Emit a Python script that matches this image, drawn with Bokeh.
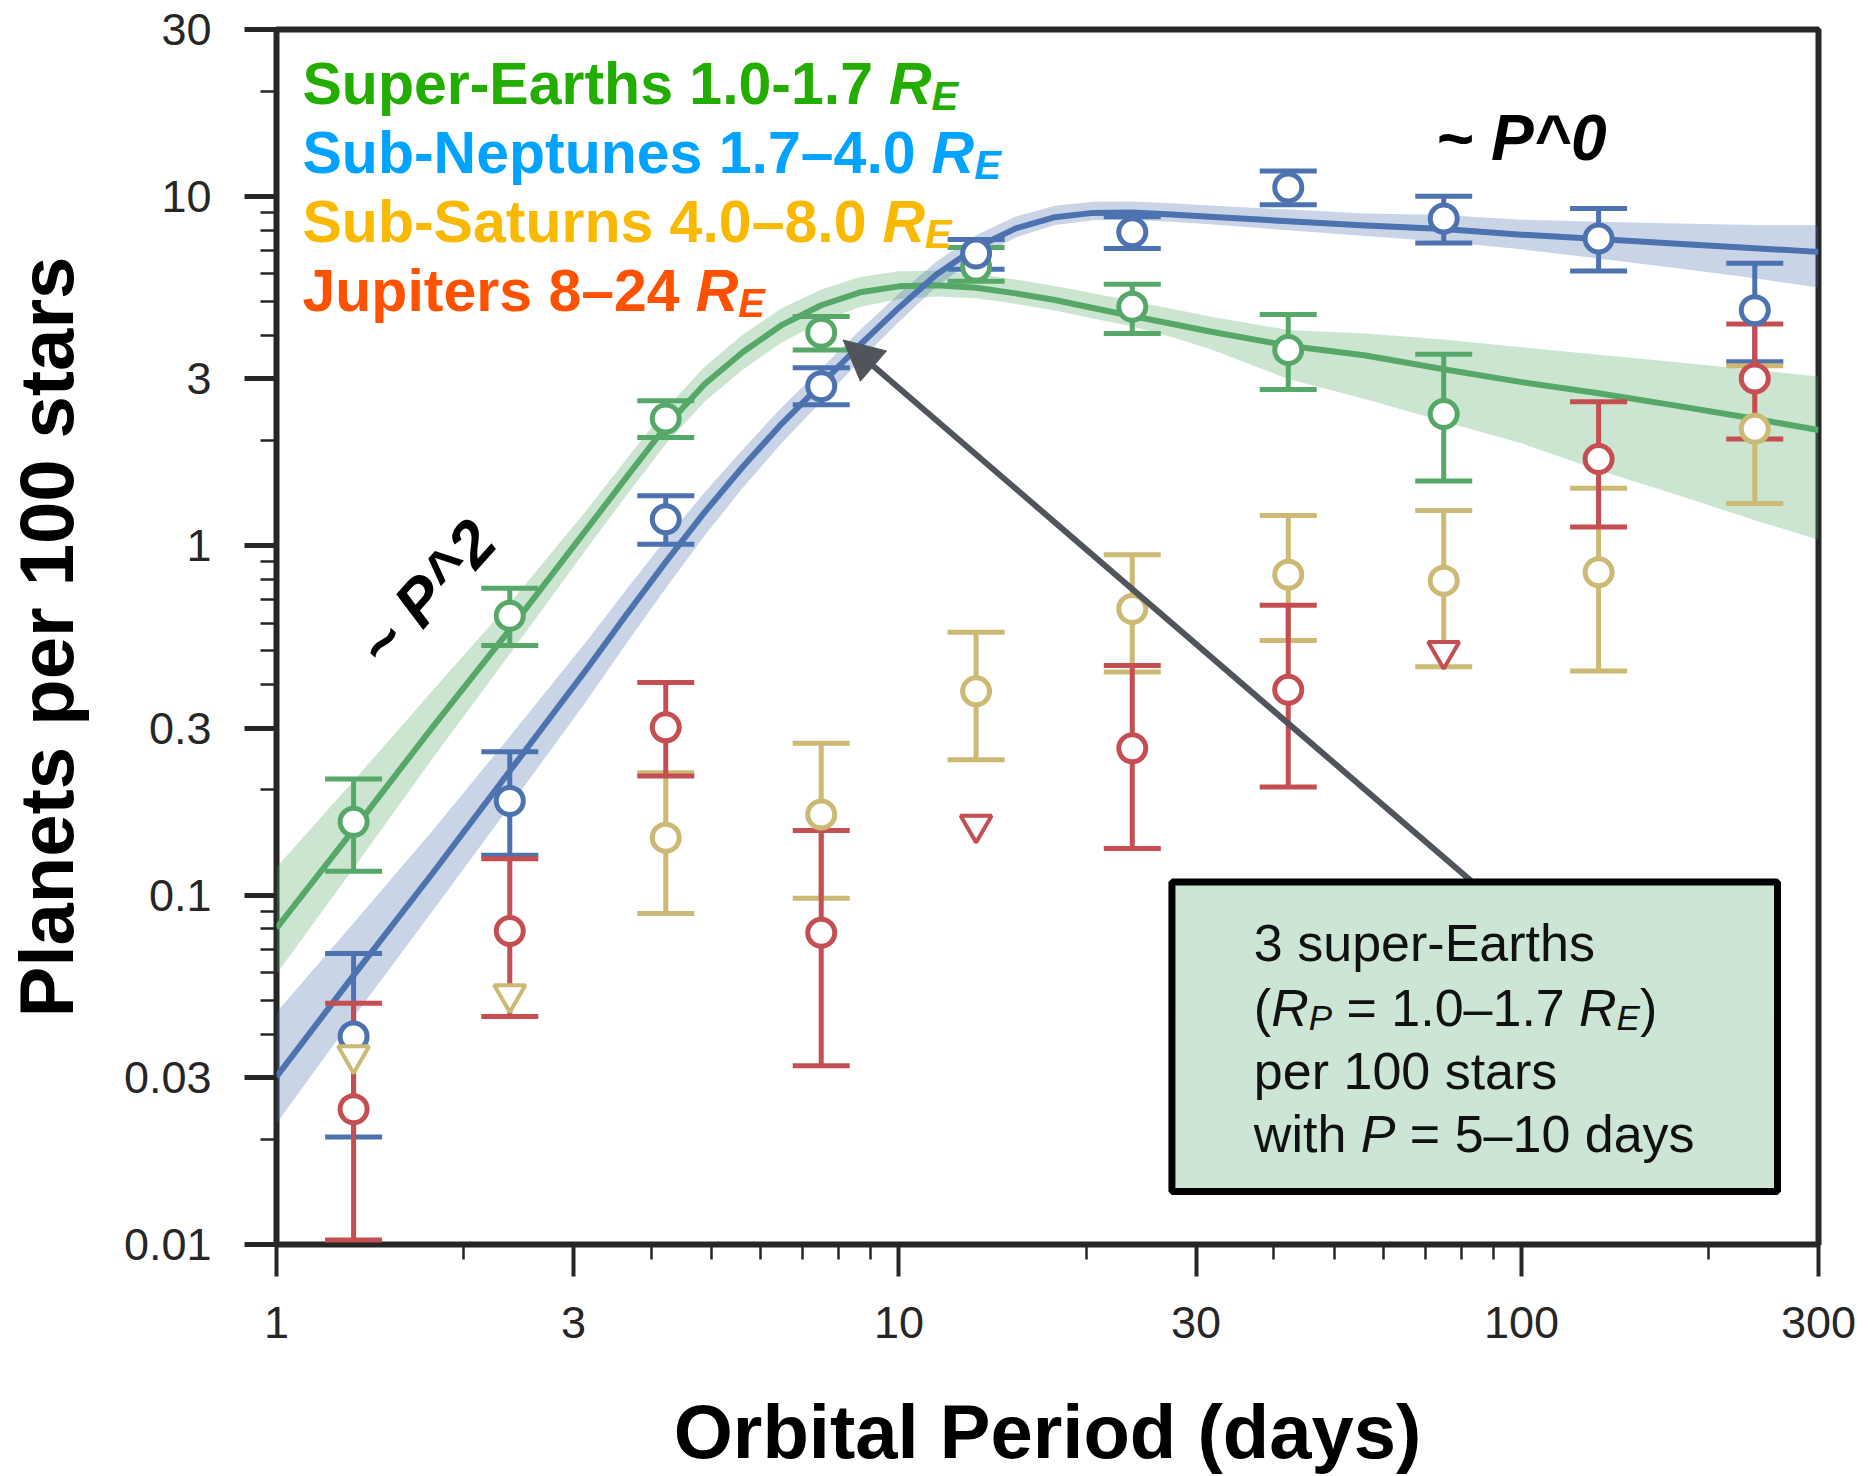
import math
from bokeh.plotting import figure
from bokeh.models import (Range1d, FixedTicker, ColumnDataSource, Whisker, TeeHead,
                          Label, Arrow, NormalHead, BoxAnnotation)
from bokeh.embed import file_html
from bokeh.resources import INLINE

# ---------------- data ----------------
period = [1.33, 2.37, 4.22, 7.50, 13.3, 23.7, 42.2, 75.0, 133, 237]

# Super-Earths 1.0-1.7 RE (first 8 bins)
se_period = [1.33, 2.37, 4.22, 7.50, 13.3, 23.7, 42.2, 75.0]
se_y = [0.162, 0.63, 2.31, 4.07, 6.28, 4.83, 3.63, 2.38]
se_hi = [0.215, 0.755, 2.60, 4.53, 7.13, 5.60, 4.59, 3.53]
se_lo = [0.117, 0.518, 2.04, 3.63, 5.71, 4.05, 2.80, 1.53]

# Sub-Neptunes 1.7-4.0 RE
sn_y = [0.0394, 0.186, 1.19, 2.86, 6.86, 7.89, 10.6, 8.63, 7.57, 4.72]
sn_hi = [0.068, 0.257, 1.39, 3.23, 7.52, 8.73, 11.8, 10.0, 9.22, 6.43]
sn_lo = [0.0203, 0.130, 1.01, 2.53, 6.18, 7.08, 9.46, 7.35, 6.11, 3.36]

# Sub-Saturns 4.0-8.0 RE  (upper limits drawn as triangles)
ss_y = [0.0348, 0.052, 0.146, 0.170, 0.383, 0.659, 0.826, 0.794, 0.839, 2.16]
ss_hi = [None, None, 0.224, 0.272, 0.565, 0.942, 1.22, 1.26, 1.46, 3.27]
ss_lo = [None, None, 0.0885, 0.098, 0.244, 0.435, 0.535, 0.45, 0.438, 1.32]
ss_limit = [True, True, False, False, False, False, False, False, False, False]

# Jupiters 8-24 RE
hj_y = [0.0244, 0.0789, 0.302, 0.078, 0.159, 0.263, 0.387, 0.50, 1.77, 3.01]
hj_hi = [0.049, 0.127, 0.406, 0.153, None, 0.454, 0.675, None, 2.58, 4.31]
hj_lo = [0.0103, 0.0449, 0.219, 0.0325, None, 0.136, 0.204, None, 1.13, 2.02]
hj_limit = [False, False, False, False, True, False, False, True, False, False]

# fitted occurrence models (line and confidence band)
fit_period = [1.00, 1.33, 1.78, 2.37, 3.16, 3.65, 4.22, 4.87, 5.62, 6.49, 7.50, 8.66,
              10.0, 11.5, 13.3, 15.4, 17.8, 20.5, 23.7, 27.4, 31.6, 42.2, 56.2, 75.0,
              100, 133, 178, 237, 300]
se_fit = [0.0804, 0.154, 0.302, 0.575, 1.122, 1.570, 2.193, 2.897, 3.589, 4.285, 4.875,
          5.309, 5.521, 5.559, 5.470, 5.272, 5.047, 4.786, 4.539, 4.315, 4.102, 3.733,
          3.499, 3.199, 2.938, 2.729, 2.512, 2.307, 2.143]
se_fit_hi = [0.1202, 0.2123, 0.3846, 0.6839, 1.274, 1.770, 2.460, 3.251, 4.027, 4.786,
             5.408, 5.875, 6.095, 6.124, 5.998, 5.781, 5.534, 5.272, 5.012, 4.764, 4.529,
             4.140, 4.046, 3.890, 3.698, 3.516, 3.350, 3.184, 3.048]
se_fit_lo = [0.0594, 0.1194, 0.2455, 0.4898, 0.9886, 1.393, 1.954, 2.582, 3.199, 3.819,
             4.365, 4.819, 5.082, 5.164, 5.105, 4.920, 4.710, 4.467, 4.236, 3.954, 3.656,
             2.999, 2.624, 2.265, 1.963, 1.644, 1.396, 1.183, 1.040]
sn_fit = [0.0302, 0.0589, 0.1153, 0.2265, 0.4467, 0.6353, 0.8974, 1.245, 1.687, 2.239,
          2.897, 3.758, 4.797, 5.984, 7.129, 8.091, 8.710, 8.96, 8.98, 8.87, 8.74, 8.48,
          8.24, 8.06, 7.76, 7.54, 7.31, 7.10, 6.93]
sn_fit_hi = [0.0462, 0.0832, 0.1528, 0.2844, 0.5370, 0.7499, 1.042, 1.419, 1.892, 2.495,
             3.214, 4.140, 5.260, 6.516, 7.727, 8.750, 9.397, 9.638, 9.661, 9.550, 9.408,
             9.155, 8.931, 8.831, 8.570, 8.453, 8.356, 8.279, 8.260]
sn_fit_lo = [0.0222, 0.0447, 0.0899, 0.1795, 0.3631, 0.5260, 0.7551, 1.067, 1.469, 1.972,
             2.582, 3.388, 4.375, 5.521, 6.653, 7.621, 8.279, 8.531, 8.570, 8.453, 8.308,
             7.990, 7.689, 7.413, 7.047, 6.637, 6.223, 5.821, 5.483]

x_ticks = [1, 3, 10, 30, 100, 300]
x_tick_labels = ["1", "3", "10", "30", "100", "300"]
x_minor = [2, 4, 5, 6, 7, 8, 9, 20, 40, 50, 60, 70, 80, 90, 200]
y_ticks = [0.01, 0.03, 0.1, 0.3, 1, 3, 10, 30]
y_tick_labels = ["0.01", "0.03", "0.1", "0.3", "1", "3", "10", "30"]
y_minor = [0.02, 0.04, 0.05, 0.06, 0.07, 0.08, 0.09, 0.2, 0.4, 0.5, 0.6, 0.7, 0.8, 0.9,
           2, 4, 5, 6, 7, 8, 9, 20]

legend_labels = ["Super-Earths 1.0-1.7", "Sub-Neptunes 1.7\u20134.0",
                 "Sub-Saturns 4.0\u20138.0", "Jupiters 8\u201324"]

# ---------------- styling ----------------
C_SE, C_SN, C_SS, C_HJ = "#55A868", "#4C72B0", "#CCB974", "#C44E52"
L_SE, L_SN, L_SS, L_HJ = "#22ad00", "#00a3ff", "#f8b900", "#ff5200"
FONT = "Liberation Sans"
AX = "#262626"

W, H = 1869, 1476
FL, FR, FT, FB = 275, 1818, 29, 1246
X0, X1, Y0, Y1 = 1.0, 300.0, 0.01, 30.0


def dx(px):
    return 10 ** (math.log10(X0) + (px - FL) / (FR - FL) * math.log10(X1 / X0))


def dy(py):
    return 10 ** (math.log10(Y1) - (py - FT) / (FB - FT) * math.log10(Y1 / Y0))


p = figure(width=W, height=H, x_axis_type="log", y_axis_type="log",
           x_range=Range1d(X0, X1), y_range=Range1d(Y0, Y1),
           output_backend="svg", toolbar_location=None,
           min_border_left=FL, min_border_right=W - FR,
           min_border_top=FT, min_border_bottom=H - FB)
p.xgrid.visible = False
p.ygrid.visible = False
p.background_fill_color = "white"
p.border_fill_color = "white"
p.outline_line_color = AX
p.outline_line_width = 6
p.outline_line_alpha = 1

# axes
p.xaxis.ticker = FixedTicker(ticks=x_ticks, minor_ticks=x_minor)
p.yaxis.ticker = FixedTicker(ticks=y_ticks, minor_ticks=y_minor)
p.xaxis.major_label_overrides = dict(zip(x_ticks, x_tick_labels))
p.yaxis.major_label_overrides = dict(zip(y_ticks, y_tick_labels))
for ax in (p.xaxis[0], p.yaxis[0]):
    ax.axis_line_color = None
    ax.major_tick_in = 0
    ax.minor_tick_in = 0
    ax.major_tick_out = 32
    ax.major_tick_line_color = AX
    ax.minor_tick_line_color = AX
    ax.major_label_text_font = FONT
    ax.major_label_text_font_size = "45px"
    ax.major_label_text_color = AX
    ax.axis_label_text_font = FONT
    ax.axis_label_text_font_size = "76px"
    ax.axis_label_text_font_style = "bold"
    ax.axis_label_text_color = "black"
p.yaxis.major_tick_line_width = 5
p.yaxis.minor_tick_line_width = 2.5
p.yaxis.minor_tick_out = 16
p.xaxis.major_tick_line_width = 4
p.xaxis.minor_tick_line_width = 2.5
p.xaxis.minor_tick_out = 15
p.yaxis.major_label_standoff = 33
p.xaxis.major_label_standoff = 30
p.xaxis.axis_label = "Orbital Period (days)"
p.yaxis.axis_label = "Planets per 100 stars"
p.xaxis.axis_label_standoff = 48
p.yaxis.axis_label_standoff = 32

# fit bands and lines
p.varea(x=fit_period, y1=se_fit_lo, y2=se_fit_hi, fill_color=C_SE, fill_alpha=0.3, level="image")
p.varea(x=fit_period, y1=sn_fit_lo, y2=sn_fit_hi, fill_color=C_SN, fill_alpha=0.3, level="image")
p.line(fit_period, se_fit, line_color=C_SE, line_width=6, line_join="round", level="image")
p.line(fit_period, sn_fit, line_color=C_SN, line_width=6, line_join="round", level="image")


def bars(xs, lo, hi, color):
    rows = [(x, l, h) for x, l, h in zip(xs, lo, hi) if l is not None]
    src = ColumnDataSource(dict(x=[r[0] for r in rows], lo=[r[1] for r in rows],
                                hi=[r[2] for r in rows]))
    w = Whisker(source=src, base="x", lower="lo", upper="hi", dimension="height",
                line_color=color, line_width=5, level="underlay",
                upper_head=TeeHead(size=57, line_color=color, line_width=5),
                lower_head=TeeHead(size=57, line_color=color, line_width=5))
    p.add_layout(w)


bars(se_period, se_lo, se_hi, C_SE)
bars(period, sn_lo, sn_hi, C_SN)
bars(period, ss_lo, ss_hi, C_SS)
bars(period, hj_lo, hj_hi, C_HJ)


def points(xs, ys, color, limit=None):
    if limit is None:
        limit = [False] * len(xs)
    cx = [x for x, l in zip(xs, limit) if not l]
    cy = [y for y, l in zip(ys, limit) if not l]
    tx = [x for x, l in zip(xs, limit) if l]
    ty = [y for y, l in zip(ys, limit) if l]
    p.scatter(cx, cy, marker="circle", size=27, fill_color="white",
              line_color=color, line_width=5)
    if tx:
        p.scatter(tx, ty, marker="inverted_triangle", size=31, fill_color="white",
                  line_color=color, line_width=4)


points(se_period, se_y, C_SE)
points(period, sn_y, C_SN)
points(period, ss_y, C_SS, ss_limit)
points(period, hj_y, C_HJ, hj_limit)

# arrow and callout box
AC = "#50555c"
p.add_layout(Arrow(x_start=dx(1474), y_start=dy(885), x_end=dx(842), y_end=dy(340),
                   line_color=AC, line_width=6,
                   end=NormalHead(size=40, fill_color=AC, line_color=AC, line_width=1)))
p.add_layout(BoxAnnotation(left=dx(1171), right=dx(1777), top=dy(883), bottom=dy(1193),
                           fill_color="#cce5d4", fill_alpha=1, line_color="black",
                           line_alpha=1, line_width=7, line_dash="solid"))

# ---------------- text ----------------
BOLD = {' ': 278, '-': 333, '\u2013': 556, '.': 278, 'S': 667, 'u': 611, 'p': 611,
        'e': 556, 'r': 389, 'E': 667, 'a': 556, 't': 333, 'h': 611, 's': 556, 'b': 611,
        'N': 722, 'n': 611, 'J': 556, 'i': 278, 'R': 722, 'P': 667}
REG = {' ': 278, '(': 333, ')': 333, '=': 584, '.': 278, '\u2013': 556, 'w': 722,
       'i': 222, 't': 278, 'h': 556, 'd': 556, 'a': 556, 'y': 500, 's': 500, 'R': 722,
       'P': 667, 'E': 667}
for d in '0123456789':
    BOLD[d] = 556
    REG[d] = 556

MID = 0.347  # distance from alphabetic baseline to em-box middle, in em


def tw(s, table, size):
    return sum(table[c] for c in s) * size / 1000.0


def lab(px, py, text, size, color="black", style="normal", align="left"):
    # (px, py): text baseline anchor, in page pixels
    p.add_layout(Label(x=dx(px), y=dy(py - MID * size), text=text, text_font=FONT,
                       text_font_size=f"{size}px", text_font_style=style,
                       text_color=color, text_align=align, text_baseline="middle"))


def runs(px, py, parts):
    x = px
    for text, size, style, table, color, shift in parts:
        stripped = text.lstrip(" ")
        lead = tw(text[:len(text) - len(stripped)], table, size)
        if stripped.strip():
            lab(x + lead, py + shift, stripped.rstrip(" "), size, color, style)
        x += tw(text, table, size)


# legend
LS, LSUB = 59, 40
leg_colors = [L_SE, L_SN, L_SS, L_HJ]
for i, (t, c) in enumerate(zip(legend_labels, leg_colors)):
    by = 104 + 69.3 * i
    runs(301, by, [(t + " ", LS, "bold", BOLD, c, 0),
                   ("R", LS, "bold italic", BOLD, c, 0),
                   ("E", LSUB, "bold italic", BOLD, c, 5)])

# power-law annotations
lab(1435, 160, "~ P^0", 64, "black", "bold italic")
p.add_layout(Label(x=dx(425), y=dy(594), text="~ P^2", text_font=FONT,
                   text_font_size="64px", text_font_style="bold italic",
                   text_color="black", text_align="center", text_baseline="middle",
                   angle=48, angle_units="deg"))

# callout text
BS, BSUB = 52, 35
TC = "#111111"
bx = 1253
lab(bx, 962, "3 super-Earths", BS, TC)
runs(bx, 1027, [("(", BS, "normal", REG, TC, 0),
                ("R", BS, "italic", REG, TC, 0),
                ("P", BSUB, "italic", REG, TC, 4),
                (" = 1.0\u20131.7 ", BS, "normal", REG, TC, 0),
                ("R", BS, "italic", REG, TC, 0),
                ("E", BSUB, "italic", REG, TC, 4),
                (")", BS, "normal", REG, TC, 0)])
lab(bx, 1090, "per 100 stars", BS, TC)
runs(bx, 1153, [("with ", BS, "normal", REG, TC, 0),
                ("P", BS, "italic", REG, TC, 0),
                (" = 5\u201310 days", BS, "normal", REG, TC, 0)])

open("out.html", "w").write(file_html(p, INLINE))
